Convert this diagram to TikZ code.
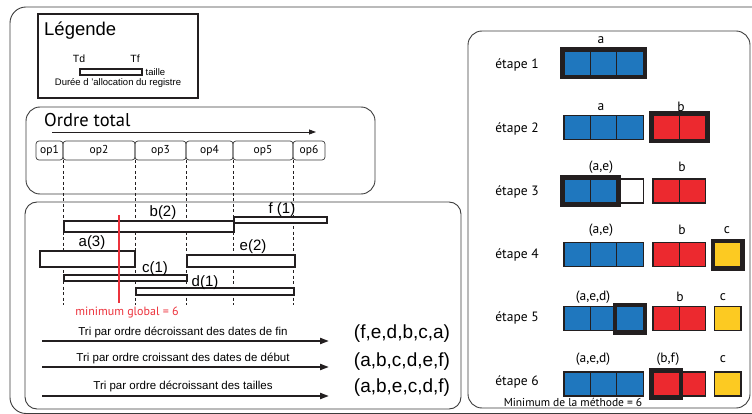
\documentclass[tikz,border=0pt]{standalone}
\usepackage{fontspec}
\setmainfont{Liberation Sans}
\newfontfamily\myr{PT Sans}
\usetikzlibrary{arrows.meta}
\definecolor{bluC}{RGB}{31,119,190}
\definecolor{redC}{RGB}{236,41,47}
\definecolor{yelC}{RGB}{252,202,34}
\definecolor{frameC}{RGB}{60,60,60}
\definecolor{inkC}{RGB}{35,31,32}
\definecolor{minC}{RGB}{236,50,60}
\newcommand\fs[1]{\fontsize{#1}{#1}\selectfont}
\newcommand\mysq[3]{\draw[sqst,fill=#3] (#1,#2) rectangle ++(26.4,24);}
\newcommand\myhl[4]{\draw[hlst] (#1-2,#2-2) rectangle (#3+2,#4+2);}
\tikzset{
  frame/.style={draw=frameC,line width=0.9pt},
  opbox/.style={draw=frameC,line width=0.7pt,rounded corners=3},
  bar/.style={draw=inkC,line width=1.1pt,fill=white},
  guide/.style={draw=inkC,line width=0.7pt,dash pattern=on 3pt off 2.5pt},
  sqst/.style={draw=inkC,line width=1.2pt},
  hlst/.style={draw=inkC,line width=4pt},
  barlbl/.style={font=\fs{15},inner sep=0pt},
  trilbl/.style={font=\fs{11.5},inner sep=0pt},
  seqlbl/.style={font=\fs{19},inner sep=0pt},
  etlbl/.style={font=\myr\fs{13.5},inner sep=0pt},
  sqlbl/.style={font=\myr\fs{13.5},inner sep=0pt},
  triarrow/.style={draw=inkC,line width=2pt,-{Triangle[length=9pt,width=6pt]}},
}
\begin{document}
\begin{tikzpicture}[x=1pt,y=-1pt]
\useasboundingbox (0,0) rectangle (752,414);
\begin{scope}
\clip (0,0) rectangle (752,414);
\draw[frame,rounded corners=16] (10,7) rectangle (800,413.5);
\end{scope}

% Legend
\draw[draw=inkC,line width=1.3pt] (38,14) rectangle (198,98);
\node[font=\fs{18.5},inner sep=0pt,anchor=west] (leg) at (44,31) {Légende};
\node[font=\fs{10.5},inner sep=0pt] (td) at (79,59) {Td};
\node[font=\fs{10.5},inner sep=0pt] (tf) at (135,59) {Tf};
\draw[bar] (80,69) rectangle (142,75);
\node[font=\fs{9.5},inner sep=0pt,anchor=west] (taille) at (145.5,72.5) {taille};
\node[font=\fs{9.5},inner sep=0pt] (duree) at (118,83) {Durée d 'allocation du registre};

% Ordre total
\draw[frame,rounded corners=14] (26,107) rectangle (375,194);
\node[font=\myr\fs{18.5},inner sep=0pt,anchor=west] (ot) at (44,120) {Ordre total};
\coordinate (ota) at (52,132);
\coordinate (otb) at (316,132);
\draw[draw=inkC,line width=0.8pt,-{Triangle[length=7pt,width=5pt]}] (ota) -- (otb);
\foreach \n/\a/\b in {op1/36/63,op2/63/135,op3/135/186,op4/186/233,op5/233/293,op6/293/325}{
  \draw[opbox] (\a,141) rectangle (\b,160);
  \node[font=\myr\fs{11.5},inner sep=0pt] (\n) at ({(\a+\b)/2},150.5) {\n};
}
\foreach \x in {63,135,186,233,293}{
  \draw[guide] (\x,160) -- (\x,305);
}

% Lower box
\draw[frame,rounded corners=12] (25,202) rectangle (461,409);
\draw[bar] (64,221) rectangle (234,232);
\node[barlbl] (lb) at (163,213) {b(2)};
\draw[bar] (234,217) rectangle (327,223);
\node[barlbl] (lf) at (282,210) {f (1)};
\draw[bar] (40,251) rectangle (135,267);
\node[barlbl] (la) at (92,243) {a(3)};
\draw[bar] (187,255) rectangle (295,267);
\node[barlbl] (le) at (253,247) {e(2)};
\draw[bar] (64,275) rectangle (187,281);
\node[barlbl] (lc) at (155,269) {c(1)};
\draw[bar] (136,288) rectangle (294,295);
\node[barlbl] (ld) at (205,283) {d(1)};
\draw[draw=minC,line width=1.3pt] (119,215) -- (119,303);
\node[font=\myr\fs{12},text=minC,inner sep=0pt] (mg) at (127,312.5) {minimum global = 6};

\coordinate (a1s) at (42,341); \coordinate (a1e) at (329,341);
\coordinate (a2s) at (42,367); \coordinate (a2e) at (329,367);
\coordinate (a3s) at (42,396); \coordinate (a3e) at (329,396);
\draw[triarrow] (a1s) -- (a1e);
\draw[triarrow] (a2s) -- (a2e);
\draw[triarrow] (a3s) -- (a3e);
\node[trilbl] (t1) at (183,332) {Tri par ordre décroissant des dates de fin};
\node[trilbl] (t2) at (183,358) {Tri par ordre croissant des dates de début};
\node[trilbl] (t3) at (183,386) {Tri par ordre décroissant des tailles};
\node[seqlbl] (s1) at (402,334) {(f,e,d,b,c,a)};
\node[seqlbl] (s2) at (402,362) {(a,b,c,d,e,f)};
\node[seqlbl] (s3) at (402,388) {(a,b,e,c,d,f)};

% Right panel
\draw[frame,rounded corners=14] (468,31) rectangle (750,408);
% stage 1
\node[etlbl] (e1) at (517,65) {étape 1};
\mysq{564}{51.5}{bluC}\mysq{590.4}{51.5}{bluC}\mysq{616.8}{51.5}{bluC}
\myhl{564}{51.5}{643.2}{75.5}
\node[sqlbl] (s1a) at (601,40) {a};
% stage 2
\node[etlbl] (e2) at (517,129) {étape 2};
\mysq{564}{115.5}{bluC}\mysq{590.4}{115.5}{bluC}\mysq{616.8}{115.5}{bluC}
\mysq{653}{115.5}{redC}\mysq{679.4}{115.5}{redC}
\myhl{653}{115.5}{705.8}{139.5}
\node[sqlbl] (s2a) at (601,107) {a};
\node[sqlbl] (s2b) at (681,107) {b};
% stage 3
\node[etlbl] (e3) at (517,192) {étape 3};
\mysq{564}{179}{bluC}\mysq{590.4}{179}{bluC}\mysq{616.8}{179}{white}
\myhl{564}{179}{616.8}{203}
\mysq{653}{179}{redC}\mysq{679.4}{179}{redC}
\node[sqlbl] (s3a) at (601,167) {(a,e)};
\node[sqlbl] (s3b) at (682,167) {b};
% stage 4
\node[etlbl] (e4) at (517,255) {étape 4};
\mysq{564}{242.5}{bluC}\mysq{590.4}{242.5}{bluC}\mysq{616.8}{242.5}{bluC}
\mysq{653}{242.5}{redC}\mysq{679.4}{242.5}{redC}
\mysq{714.5}{242.5}{yelC}
\myhl{714.5}{242.5}{740.9}{266.5}
\node[sqlbl] (s4a) at (601,230) {(a,e)};
\node[sqlbl] (s4b) at (682,230) {b};
\node[sqlbl] (s4c) at (727,230) {c};
% stage 5
\node[etlbl] (e5) at (517,318) {étape 5};
\mysq{564}{306.5}{bluC}\mysq{590.4}{306.5}{bluC}\mysq{616.8}{306.5}{bluC}
\myhl{616.8}{306.5}{643.2}{330.5}
\mysq{653}{306.5}{redC}\mysq{679.4}{306.5}{redC}
\mysq{714.5}{306.5}{yelC}
\node[sqlbl] (s5a) at (593,297) {(a,e,d)};
\node[sqlbl] (s5b) at (680,297) {b};
\node[sqlbl] (s5c) at (723,297) {c};
% stage 6
\node[etlbl] (e6) at (517,382) {étape 6};
\mysq{564}{372}{bluC}\mysq{590.4}{372}{bluC}\mysq{616.8}{372}{bluC}
\mysq{653}{372}{redC}\mysq{679.4}{372}{redC}
\myhl{653}{372}{679.4}{396}
\mysq{714.5}{372}{yelC}
\node[sqlbl] (s6a) at (593,359) {(a,e,d)};
\node[sqlbl] (s6b) at (668,359) {(b,f)};
\node[sqlbl] (s6c) at (723,359) {c};
\node[font=\myr\fs{11.5},inner sep=0pt] (mm) at (573,402) {Minimum de la méthode = 6};
\end{tikzpicture}
\end{document}
